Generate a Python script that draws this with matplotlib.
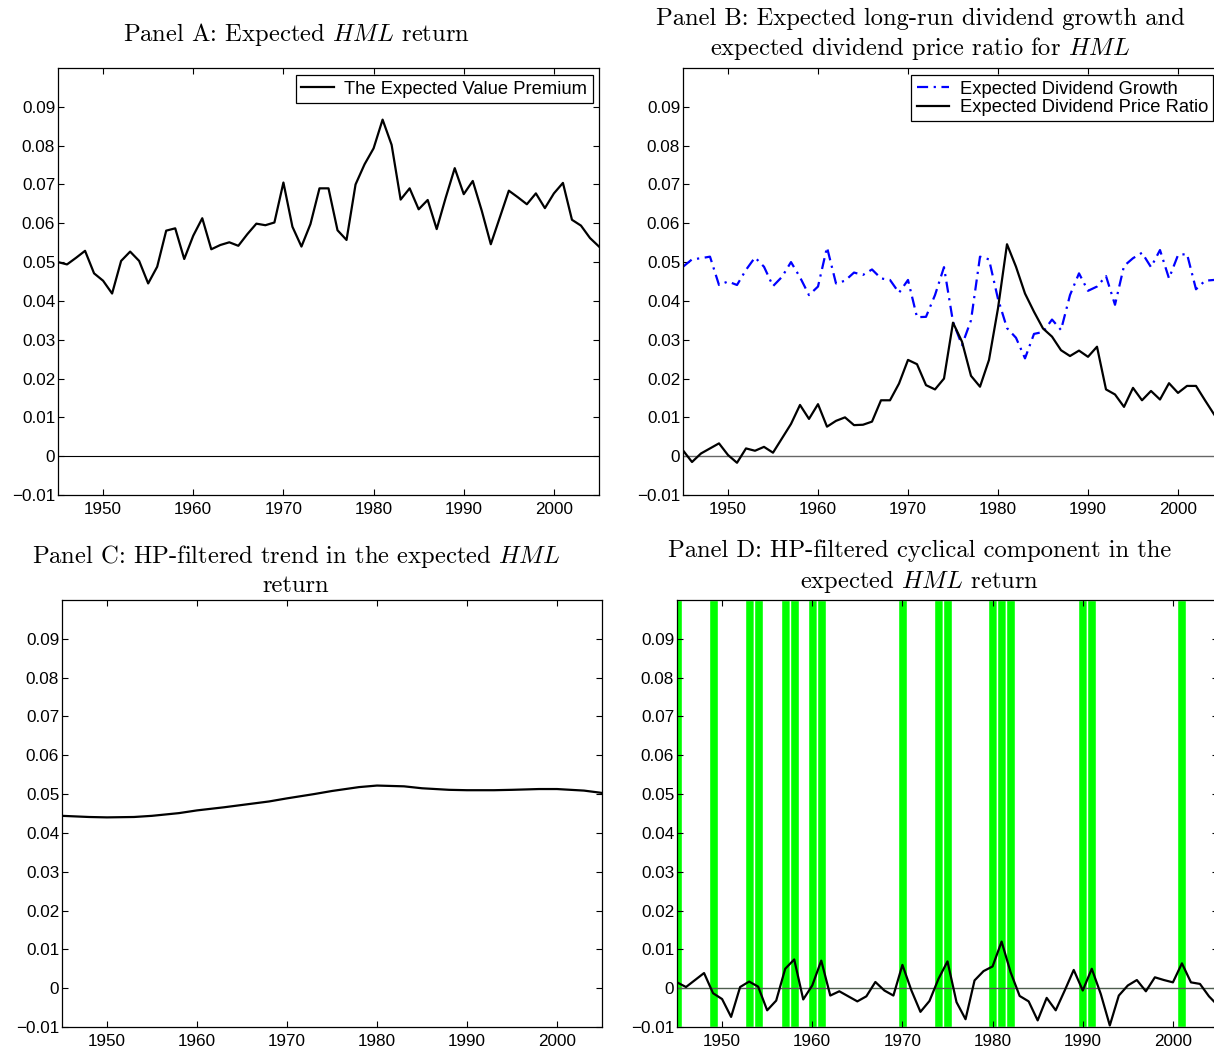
import matplotlib
matplotlib.use("Agg")
import matplotlib.pyplot as plt
import numpy as np

# ---------------- data ----------------
years = list(range(1945, 2006))

value_premium = [
    0.0500, 0.0494, 0.0511, 0.0529, 0.0471, 0.0452, 0.0419, 0.0503, 0.0527, 0.0503,
    0.0445, 0.0488, 0.0581, 0.0587, 0.0508, 0.0568, 0.0613, 0.0533, 0.0544, 0.0551,
    0.0542, 0.0572, 0.0599, 0.0595, 0.0602, 0.0705, 0.0591, 0.0540, 0.0598, 0.0690,
    0.0690, 0.0582, 0.0557, 0.0700, 0.0752, 0.0793, 0.0867, 0.0802, 0.0661, 0.0690,
    0.0636, 0.0660, 0.0585, 0.0666, 0.0742, 0.0675, 0.0709, 0.0632, 0.0546, 0.0615,
    0.0684, 0.0667, 0.0649, 0.0677, 0.0639, 0.0677, 0.0704, 0.0609, 0.0594, 0.0562,
    0.0540]

div_growth = [
    0.0488, 0.0507, 0.0510, 0.0514, 0.0441, 0.0450, 0.0441, 0.0480, 0.0512, 0.0488,
    0.0438, 0.0462, 0.0500, 0.0461, 0.0415, 0.0437, 0.0538, 0.0445, 0.0452, 0.0473,
    0.0467, 0.0481, 0.0458, 0.0454, 0.0421, 0.0454, 0.0358, 0.0359, 0.0415, 0.0487,
    0.0346, 0.0286, 0.0350, 0.0514, 0.0507, 0.0405, 0.0330, 0.0305, 0.0252, 0.0315,
    0.0320, 0.0352, 0.0325, 0.0415, 0.0471, 0.0426, 0.0437, 0.0464, 0.0390, 0.0490,
    0.0510, 0.0524, 0.0487, 0.0531, 0.0458, 0.0518, 0.0521, 0.0430, 0.0452, 0.0454,
    0.0454]

dp_ratio = [
    0.0015, -0.0015, 0.0007, 0.0020, 0.0033, 0.0003, -0.0017, 0.0020, 0.0014, 0.0024,
    0.0009, 0.0046, 0.0083, 0.0132, 0.0096, 0.0134, 0.0076, 0.0091, 0.0100, 0.0080,
    0.0081, 0.0089, 0.0144, 0.0144, 0.0187, 0.0248, 0.0237, 0.0183, 0.0172, 0.0200,
    0.0344, 0.0295, 0.0207, 0.0179, 0.0248, 0.0381, 0.0546, 0.0488, 0.0419, 0.0372,
    0.0329, 0.0308, 0.0273, 0.0258, 0.0272, 0.0256, 0.0282, 0.0172, 0.0159, 0.0127,
    0.0176, 0.0144, 0.0168, 0.0146, 0.0188, 0.0163, 0.0181, 0.0181, 0.0144, 0.0108,
    0.0075]

trend_years = [1945, 1948, 1950, 1953, 1955, 1958, 1960, 1963, 1965, 1968, 1970,
               1973, 1975, 1978, 1980, 1983, 1985, 1988, 1990, 1993, 1995, 1998,
               2000, 2003, 2005]
trend_values = [0.0444, 0.0441, 0.0440, 0.0441, 0.0444, 0.0451, 0.0458, 0.0466, 0.0472,
                0.0481, 0.0489, 0.0500, 0.0508, 0.0518, 0.0522, 0.0520, 0.0515,
                0.0511, 0.0510, 0.0510, 0.0511, 0.0513, 0.0513, 0.0509, 0.0503]

cycle = [
    0.0015, 0.0003, 0.0021, 0.0039, -0.0013, -0.0028, -0.0074, 0.0003, 0.0017, 0.0004,
    -0.0057, -0.0032, 0.0050, 0.0074, -0.0029, 0.0007, 0.0071, -0.0019, -0.0008, -0.0021,
    -0.0034, -0.0021, 0.0016, -0.0006, -0.0019, 0.0060, -0.0006, -0.0061, -0.0033, 0.0024,
    0.0069, -0.0036, -0.0080, 0.0020, 0.0044, 0.0056, 0.0120, 0.0041, -0.0020, -0.0034,
    -0.0083, -0.0025, -0.0057, -0.0006, 0.0047, -0.0006, 0.0050, -0.0015, -0.0096, -0.0019,
    0.0007, 0.0021, -0.0008, 0.0028, 0.0021, 0.0015, 0.0064, 0.0015, 0.0011, -0.0021,
    -0.0045]

recession_years = [1945, 1949, 1953, 1954, 1957, 1958, 1960, 1961, 1970, 1974, 1975,
                   1980, 1981, 1982, 1990, 1991, 2001]

xtick_values = [1950, 1960, 1970, 1980, 1990, 2000]
xtick_labels = ["1950", "1960", "1970", "1980", "1990", "2000"]
ytick_values = [-0.01, 0.0, 0.01, 0.02, 0.03, 0.04, 0.05, 0.06, 0.07, 0.08, 0.09]
ytick_labels = ["\u22120.01", "0", "0.01", "0.02", "0.03", "0.04", "0.05", "0.06",
                "0.07", "0.08", "0.09"]

titles = {
    "A": "Panel A: Expected $HML$ return",
    "B": "Panel B: Expected long-run dividend growth and\nexpected dividend price ratio for $HML$",
    "C": "Panel C: HP-filtered trend in the expected $HML$\nreturn",
    "D": "Panel D: HP-filtered cyclical component in the\nexpected $HML$ return",
}

# ---------------- style ----------------
plt.rcParams["mathtext.fontset"] = "cm"
plt.rcParams["font.family"] = ["Liberation Sans", "DejaVu Sans"]
TICK_FS = 12.3
LEG_FS = 13.2
TITLE_FS = 17.7

W, H = 1214, 1048
fig = plt.figure(figsize=(W / 100, H / 100), dpi=100)


def make_axes(left, top, width, height):
    return fig.add_axes([left / W, 1 - (top + height) / H, width / W, height / H])


def style(ax):
    ax.set_xlim(1945, 2005)
    ax.set_ylim(-0.01, 0.1)
    ax.set_xticks(xtick_values)
    ax.set_xticklabels(xtick_labels)
    ax.set_yticks(ytick_values)
    ax.set_yticklabels(ytick_labels)
    ax.tick_params(direction="in", top=True, right=True, length=4.5, width=0.8,
                   labelsize=TICK_FS, colors="black")
    ax.tick_params(axis="x", pad=5)
    ax.tick_params(axis="y", pad=2)
    for s in ax.spines.values():
        s.set_linewidth(0.9)
        s.set_color("black")


axA = make_axes(58, 68, 541, 427)
axB = make_axes(683, 68, 540, 427)
axC = make_axes(62, 600, 540, 427)
axD = make_axes(677, 600, 541, 427)
for ax in (axA, axB, axC, axD):
    style(ax)

leg_kw = dict(bbox_transform=fig.transFigure, borderaxespad=0, fancybox=False,
              edgecolor="black", framealpha=1, fontsize=LEG_FS, handlelength=1.75,
              borderpad=0.3, handletextpad=0.6, labelspacing=0.08)

# Panel A
axA.axhline(0, color="black", lw=0.8)
axA.plot(years, value_premium, color="black", lw=1.6, label="The Expected Value Premium")
legA = axA.legend(loc="upper right", bbox_to_anchor=(593 / W, 1 - 75 / H), **leg_kw)
legA.get_frame().set_linewidth(0.9)

# Panel B
axB.axhline(0, color="#666666", lw=1.0)
axB.plot(years, div_growth, color="#0000ff", lw=1.6, dashes=[5, 2.5, 1, 2.5],
         label="Expected Dividend Growth")
axB.plot(years, dp_ratio, color="black", lw=1.6, label="Expected Dividend Price Ratio")
legB = axB.legend(loc="upper left", bbox_to_anchor=(911 / W, 1 - 75 / H), **leg_kw)
legB.get_frame().set_linewidth(0.9)

# Panel C
axC.plot(trend_years, trend_values, color="black", lw=1.6)

# Panel D
axD.bar(recession_years, [0.11] * len(recession_years), bottom=-0.01, width=1.0,
        color="#00ff00", edgecolor="white", linewidth=1.0, zorder=1)
axD.axhline(0, color="#4d5d4d", lw=1.0, zorder=2)
axD.plot(years, cycle, color="black", lw=1.6, zorder=3)

# Titles
title_kw = dict(fontfamily="cmr10", fontsize=TITLE_FS, ha="center", va="center",
                linespacing=1.28)
fig.text(296 / W, 1 - 35 / H, titles["A"], **title_kw)
fig.text(920 / W, 1 - 35 / H, titles["B"], **title_kw)
fig.text(296 / W, 1 - 570 / H, titles["C"], **title_kw)
fig.text(920 / W, 1 - 567 / H, titles["D"], **title_kw)

fig.savefig("out.png", dpi=100)
